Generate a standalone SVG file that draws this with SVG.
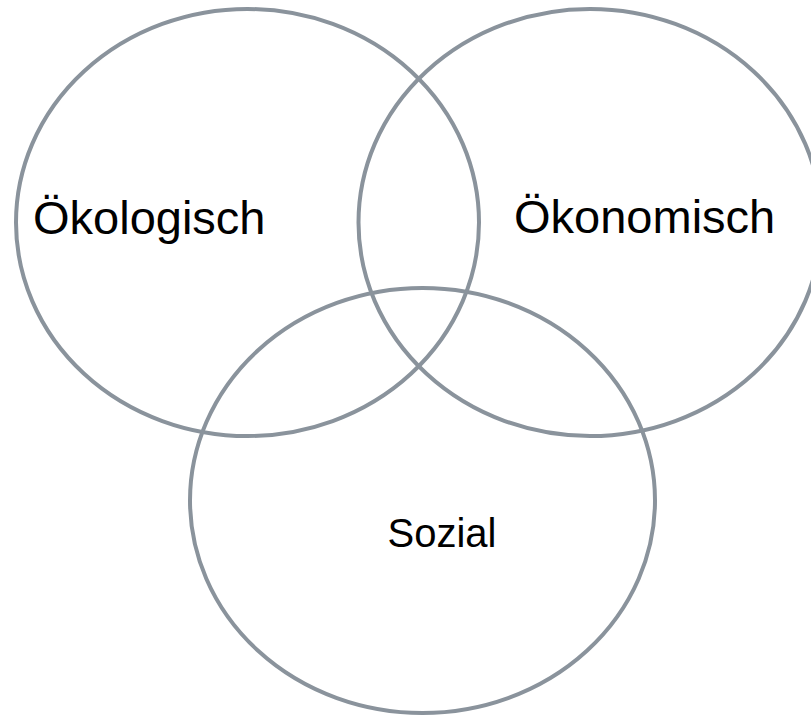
<svg xmlns="http://www.w3.org/2000/svg" width="811" height="717" viewBox="0 0 811 717">
<style>
.c{fill:none;stroke:#8A939C;stroke-width:4}
.t{font-family:"Liberation Sans",Arial,sans-serif;font-size:47px;fill:#000}
</style>
<rect width="811" height="717" fill="#fff"/>
<g id="oekologisch"><ellipse class="c" cx="247.5" cy="222.5" rx="231.5" ry="213.5"/></g>
<g id="oekonomisch"><ellipse class="c" cx="590" cy="222.5" rx="231.5" ry="213.5"/></g>
<g id="sozial"><ellipse class="c" cx="422.5" cy="500.5" rx="232.5" ry="212.5"/></g>
<g id="labels">
<text class="t" x="33" y="234">Ökologisch</text>
<text class="t" x="514" y="233">Ökonomisch</text>
<text class="t" x="442" y="547" text-anchor="middle" style="font-size:40px">Sozial</text>
</g>
</svg>
